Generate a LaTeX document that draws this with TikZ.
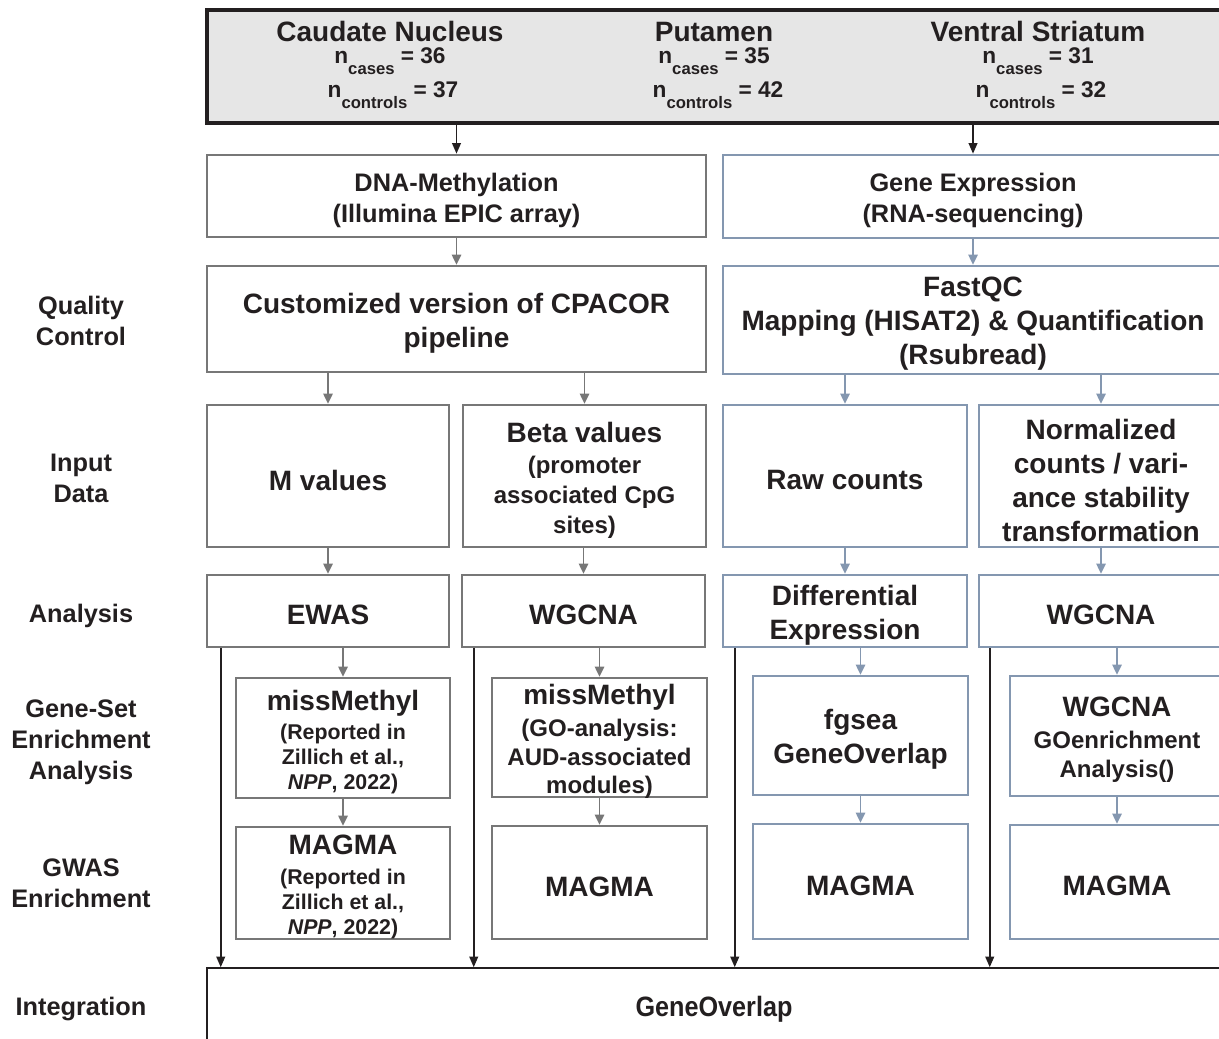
\documentclass[tikz,border=0pt]{standalone}
\usepackage{fontspec}
\setmainfont{Liberation Sans}
\usetikzlibrary{arrows.meta}
\definecolor{tcol}{HTML}{231F20}
\definecolor{gcol}{HTML}{777777}
\definecolor{bcol}{HTML}{8497B0}
\definecolor{topfill}{HTML}{E6E6E6}
\newcommand\myfs[2]{\fontsize{#1}{#2}\selectfont}
\newcommand\sbs[1]{\raisebox{-8pt}{\myfs{12.5}{12.5}#1}}
\newcommand\mkbox[7]{\node[#1, minimum width={(#5-#3)*0.75pt}, minimum height={(#6-#4)*0.75pt}] (#2) at ({(#3+#5)/2},{(#4+#6)/2}) {};
  \node[#1, draw=none, fill=none, yshift=-3pt] (#2t) at (#2.center) {#7};}
\begin{document}
\begin{tikzpicture}[x=0.75pt,y=-0.75pt,
  basebox/.style={align=center, inner sep=0pt, text=tcol, font=\myfs{21}{25.5}\bfseries},
  graybox/.style={basebox, draw=gcol, line width=1.9pt, fill=white},
  bluebox/.style={basebox, draw=bcol, line width=1.9pt, fill=white},
  topbox/.style={draw=tcol, line width=2.6pt, fill=topfill, inner sep=0pt},
  intbox/.style={draw=tcol, line width=1.1pt, fill=white, inner sep=0pt},
  garr/.style={draw=gcol, line width=1.1pt, -{Triangle[length=7.5pt,width=7pt]}},
  barr/.style={draw=bcol, line width=1.1pt, -{Triangle[length=7.5pt,width=7pt]}},
  karr/.style={draw=tcol, line width=1.4pt, -{Triangle[length=8pt,width=6.5pt]}},
  lab/.style={align=center, text=tcol, font=\myfs{19}{23.25}\bfseries},
  ttl/.style={text=tcol, inner sep=0pt, font=\myfs{21}{25}\bfseries},
  nline/.style={text=tcol, inner sep=0pt, font=\myfs{17}{20}\bfseries}]
\useasboundingbox (0,0) rectangle (1219,1038);
\clip (0,0) rectangle (1219,1038);

% top box
\node[topbox, minimum width={(1221-207)*0.75pt}, minimum height={(123-10)*0.75pt}] (top) at (714,66.5) {};
\node[ttl, anchor=base] (t1) at (390,42) {Caudate Nucleus};
\node[nline, anchor=base] (t1a) at (390,64) {n\sbs{cases} = 36};
\node[nline, anchor=base] (t1b) at (393,98) {n\sbs{controls} = 37};
\node[ttl, anchor=base] (t2) at (714,42) {Putamen};
\node[nline, anchor=base] (t2a) at (714,64) {n\sbs{cases} = 35};
\node[nline, anchor=base] (t2b) at (718,98) {n\sbs{controls} = 42};
\node[ttl, anchor=base] (t3) at (1038,42) {Ventral Striatum};
\node[nline, anchor=base] (t3a) at (1038,64) {n\sbs{cases} = 31};
\node[nline, anchor=base] (t3b) at (1041,98) {n\sbs{controls} = 32};

% row boxes
\mkbox{graybox, font=\myfs{19}{23.25}\bfseries}{dna}{207}{155}{706}{237}{DNA-Methylation\\(Illumina EPIC array)}
\mkbox{bluebox, font=\myfs{19}{23.25}\bfseries}{gex}{723}{155}{1223}{238}{Gene Expression\\(RNA-sequencing)}
\mkbox{graybox}{cpa}{207}{266}{706}{372}{Customized version of CPACOR\\pipeline}
\mkbox{bluebox}{fqc}{723}{266}{1223}{374}{FastQC\\Mapping (HISAT2) \& Quantification\\(Rsubread)}

\mkbox{graybox}{mval}{207}{405}{449}{547}{M values}
\mkbox{graybox, font=\myfs{18}{22.5}\bfseries}{beta}{463}{405}{706}{547}{{\myfs{21}{25}Beta values}\\[0.75pt](promoter\\associated CpG\\sites)}
\mkbox{bluebox}{raw}{723}{405}{967}{547}{Raw counts}
\mkbox{bluebox}{norm}{979}{405}{1223}{547}{Normalized\\counts / vari-\\ance stability\\transformation}

\mkbox{graybox}{ewas}{207}{575}{449}{647}{EWAS}
\mkbox{graybox}{wg1}{462}{575}{705}{647}{WGCNA}
\mkbox{bluebox}{dex}{723}{575}{967}{647}{Differential\\Expression}
\mkbox{bluebox}{wg2}{979}{575}{1223}{647}{WGCNA}

\mkbox{graybox, font=\myfs{16}{18.75}\bfseries}{mm1}{236}{678}{450}{798}{{\myfs{21}{25}missMethyl}\\[3pt](Reported in\\Zillich et al.,\\\textit{NPP}, 2022)}
\mkbox{graybox, font=\myfs{18}{21.5}\bfseries}{mm2}{492}{678}{707}{797}{{\myfs{21}{25}missMethyl}\\[2.5pt](GO-analysis:\\AUD-associated\\modules)}
\mkbox{bluebox}{fgs}{753}{676}{968}{795}{fgsea\\GeneOverlap}
\mkbox{bluebox, font=\myfs{18}{21.75}\bfseries}{wgo}{1010}{676}{1224}{796}{{\myfs{21}{25}WGCNA}\\[2.25pt]GOenrichment\\Analysis()}

\mkbox{graybox, font=\myfs{16}{18.75}\bfseries}{mg1}{236}{827}{450}{939}{{\myfs{21}{25}MAGMA}\\[3.75pt](Reported in\\Zillich et al.,\\\textit{NPP}, 2022)}
\mkbox{graybox}{mg2}{492}{826}{707}{939}{MAGMA}
\mkbox{bluebox}{mg3}{753}{824}{968}{939}{MAGMA}
\mkbox{bluebox}{mg4}{1010}{825}{1224}{939}{MAGMA}

\node[intbox, minimum width={(1221-207)*0.75pt}, minimum height={(1044-968)*0.75pt}] (integ) at (714,1006) {};
\node[text=tcol, font=\myfs{21}{25}\bfseries, yshift=-2.25pt] (integtxt) at (integ.center) {\scalebox{0.9}[1]{GeneOverlap}};

% left labels
\node[lab] (l1) at (81,321) {Quality\\Control};
\node[lab] (l2) at (81,478) {Input\\Data};
\node[lab] (l3) at (81,616) {Analysis};
\node[lab] (l4) at (81,742) {Gene-Set\\Enrichment\\Analysis};
\node[lab] (l5) at (81,883) {GWAS\\Enrichment};
\node[lab] (l6) at (81,1009) {Integration};

% connectors
\draw[karr] (dna.north |- top.south) -- (dna.north);
\draw[karr] (gex.north |- top.south) -- (gex.north);
\draw[garr] (dna.south) -- (cpa.north);
\draw[barr] (gex.south) -- (fqc.north);
\draw[garr] (mval.north |- cpa.south) -- (mval.north);
\draw[garr] (beta.north |- cpa.south) -- (beta.north);
\draw[barr] (raw.north |- fqc.south) -- (raw.north);
\draw[barr] (norm.north |- fqc.south) -- (norm.north);
\draw[garr] (mval.south) -- (ewas.north);
\draw[garr] (wg1.north |- beta.south) -- (wg1.north);
\draw[barr] (raw.south) -- (dex.north);
\draw[barr] (norm.south) -- (wg2.north);
\draw[garr] (mm1.north |- ewas.south) -- (mm1.north);
\draw[garr] (mm2.north |- wg1.south) -- (mm2.north);
\draw[barr] (fgs.north |- dex.south) -- (fgs.north);
\draw[barr] (wgo.north |- wg2.south) -- (wgo.north);
\draw[garr] (mm1.south) -- (mg1.north);
\draw[garr] (mm2.south) -- (mg2.north);
\draw[barr] (fgs.south) -- (mg3.north);
\draw[barr] (wgo.south) -- (mg4.north);

\coordinate (k1) at ([xshift=11.25pt]ewas.south west);
\coordinate (k2) at ([xshift=9.75pt]wg1.south west);
\coordinate (k3) at ([xshift=9.75pt]dex.south west);
\coordinate (k4) at ([xshift=9pt]wg2.south west);
\draw[karr] (k1) -- (k1 |- integ.north);
\draw[karr] (k2) -- (k2 |- integ.north);
\draw[karr] (k3) -- (k3 |- integ.north);
\draw[karr] (k4) -- (k4 |- integ.north);
\end{tikzpicture}
\end{document}
